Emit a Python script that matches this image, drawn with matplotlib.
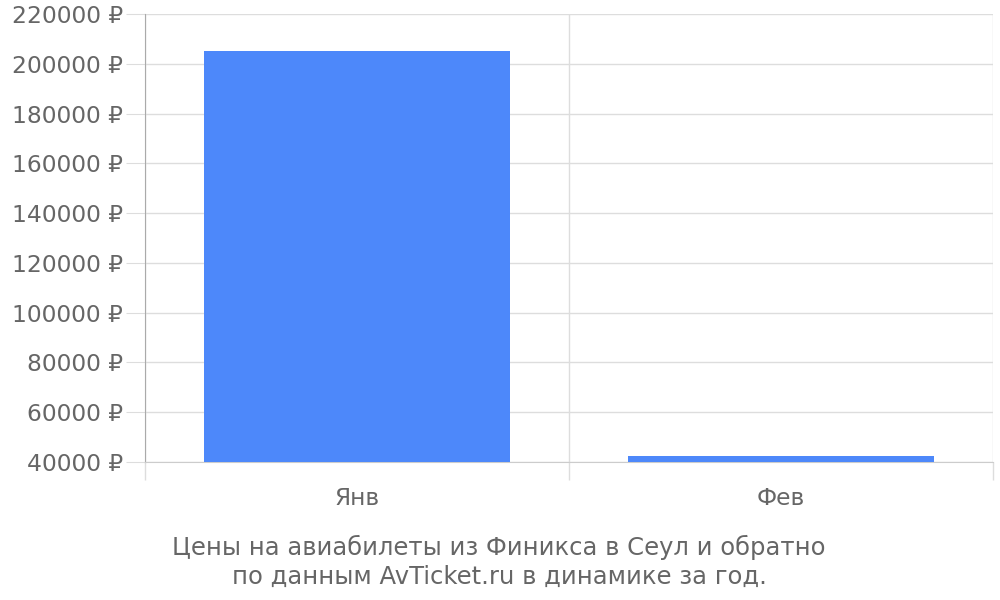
import matplotlib.pyplot as plt
from matplotlib.ticker import FuncFormatter

months = ['Янв', 'Фев']
prices = [205000, 42600]
yticks = list(range(40000, 220001, 20000))

grid = '#dddddd'
text_c = '#666666'
bar_c = '#4d88fa'

fig = plt.figure(figsize=(10, 6), dpi=100)
ax = fig.add_axes([0.145, 1 - 462 / 600, 0.848, 448 / 600])

x = range(len(months))
ax.bar(x, prices, width=0.72, color=bar_c, zorder=3)

ax.set_xlim(-0.5, len(months) - 0.5)
ax.set_ylim(40000, 220000)
ax.set_yticks(yticks)
ax.yaxis.set_major_formatter(FuncFormatter(lambda v, p: f'{int(v)} ₽'))
ax.tick_params(axis='y', length=14, color=grid, labelsize=16.8, labelcolor=text_c, pad=2)
ax.grid(axis='y', color=grid, linewidth=1, zorder=0)

# category boundaries: vertical lines running below the plot
ax.set_xticks([i - 0.5 for i in range(len(months) + 1)])
ax.set_xticklabels([])
ax.tick_params(axis='x', length=13, color=grid, width=1)
ax.grid(axis='x', color=grid, linewidth=1, zorder=0)
ax.set_xticks(list(x), minor=True)
ax.set_xticklabels(months, minor=True)
ax.tick_params(axis='x', which='minor', length=0, labelsize=16.8, labelcolor=text_c, pad=18)
ax.xaxis.get_major_ticks()[0].tick1line.set_color('#aaaaaa')

for s in ['top', 'right']:
    ax.spines[s].set_visible(False)
ax.spines['bottom'].set_color('#cccccc')
ax.spines['left'].set_color('#aaaaaa')

fig.text(0.499, 1 - 535 / 600, 'Цены на авиабилеты из Финикса в Сеул и обратно\nпо данным AvTicket.ru в динамике за год.',
         ha='center', va='top', fontsize=17.5, color=text_c, linespacing=1.25)

fig.savefig('out.png', dpi=100)
